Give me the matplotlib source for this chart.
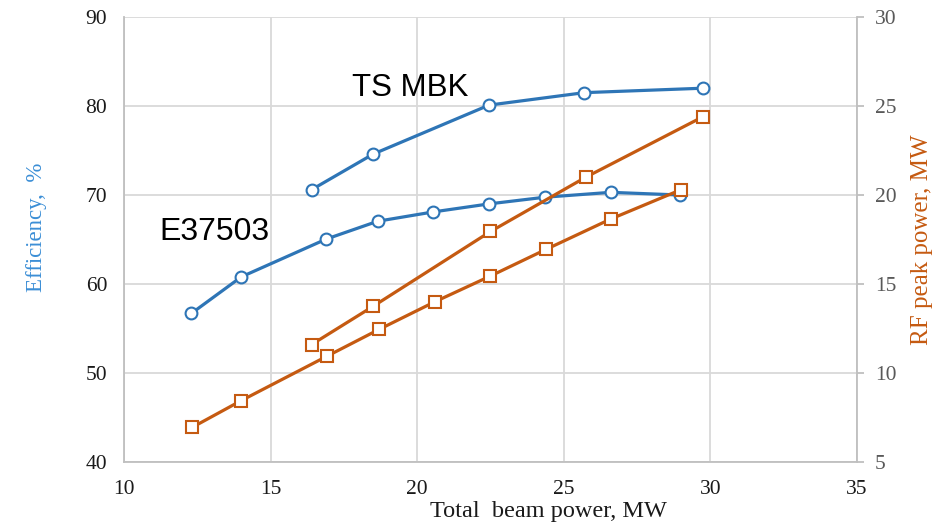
import matplotlib
matplotlib.use("Agg")
import matplotlib.pyplot as plt

# Data
ts_x_eff = [16.4, 18.5, 22.45, 25.7, 29.75]
ts_eff = [70.6, 74.6, 80.1, 81.5, 82.0]

e_x_eff = [12.3, 14.0, 16.9, 18.65, 20.55, 22.45, 24.35, 26.6, 28.95]
e_eff = [56.7, 60.8, 65.05, 67.05, 68.1, 69.0, 69.75, 70.3, 70.0]

ts_x_rf = [16.4, 18.5, 22.5, 25.75, 29.75]
ts_rf = [11.6, 13.75, 17.95, 21.0, 24.4]

e_x_rf = [12.33, 14.0, 16.93, 18.7, 20.6, 22.5, 24.4, 26.6, 29.0]
e_rf = [6.95, 8.45, 10.95, 12.45, 14.0, 15.45, 16.95, 18.65, 20.3]

x_ticks = [10, 15, 20, 25, 30, 35]
eff_ticks = [40, 50, 60, 70, 80, 90]
rf_ticks = [5, 10, 15, 20, 25, 30]

BLUE = "#2e75b6"
ORANGE = "#c55a11"
GRID = "#d9d9d9"
SERIF = ["Liberation Serif", "DejaVu Serif"]
SANS = ["Liberation Sans", "DejaVu Sans"]

fig = plt.figure(figsize=(9.53, 5.22), dpi=100)
ax = fig.add_axes([124 / 953, 1 - 462 / 522, (857 - 124) / 953, (462 - 17) / 522])
ax2 = ax.twinx()

ax.set_xlim(10, 35)
ax.set_ylim(40, 90)
ax2.set_ylim(5, 30)

ax.set_xticks(x_ticks)
ax.set_yticks(eff_ticks)
ax2.set_yticks(rf_ticks)
ax.grid(True, color=GRID, linewidth=1.3)
ax.set_axisbelow(True)

ax.spines["top"].set_visible(False)
ax2.spines["top"].set_visible(False)
ax2.spines["left"].set_visible(False)
ax2.spines["bottom"].set_visible(False)
ax.spines["right"].set_visible(False)
for sp in (ax.spines["left"], ax.spines["bottom"], ax2.spines["right"]):
    sp.set_color("#bfbfbf")
    sp.set_linewidth(1.3)

ax.tick_params(axis="both", length=0)
ax.tick_params(axis="y", pad=12)
ax.tick_params(axis="x", pad=13)
ax2.tick_params(axis="y", length=5, color="#bfbfbf", width=1.3, pad=8, labelcolor="#595959")

for lab in ax.get_xticklabels() + ax.get_yticklabels():
    lab.set_fontfamily(SERIF)
    lab.set_fontsize(15.5)
    lab.set_color("#1a1a1a")
for lab in ax2.get_yticklabels():
    lab.set_fontfamily(SERIF)
    lab.set_fontsize(15.5)

mk = dict(markerfacecolor="white", markeredgewidth=1.5, markersize=8.5, linewidth=2.3)
ax.plot(ts_x_eff, ts_eff, color=BLUE, marker="o", markeredgecolor=BLUE, zorder=3, **mk)
ax.plot(e_x_eff, e_eff, color=BLUE, marker="o", markeredgecolor=BLUE, zorder=3, **mk)
mk2 = dict(markerfacecolor="white", markeredgewidth=1.5, markersize=8, linewidth=2.3)
ax2.plot(ts_x_rf, ts_rf, color=ORANGE, marker="s", markeredgecolor=ORANGE, zorder=3, **mk2)
ax2.plot(e_x_rf, e_rf, color=ORANGE, marker="s", markeredgecolor=ORANGE, zorder=3, **mk2)

fig.text(37 / 953, 1 - 227 / 522, "Efficiency,  %", rotation=90, ha="center", va="center",
         color="#3b8ed6", fontsize=16.5, family=SERIF)
fig.text(922 / 953, 1 - 240 / 522, "RF peak power, MW", rotation=90, ha="center", va="center",
         color=ORANGE, fontsize=18, family=SERIF)
fig.text(548 / 953, 1 - 511 / 522, "Total  beam power, MW", ha="center", va="center",
         color="#1a1a1a", fontsize=17.5, family=SERIF)

fig.text(410 / 953, 1 - 88 / 522, "TS MBK", ha="center", va="center",
         color="black", fontsize=22.5, family=SANS)
fig.text(214 / 953, 1 - 232 / 522, "E37503", ha="center", va="center",
         color="black", fontsize=23, family=SANS)

fig.savefig("out.png", dpi=100, facecolor="white")
